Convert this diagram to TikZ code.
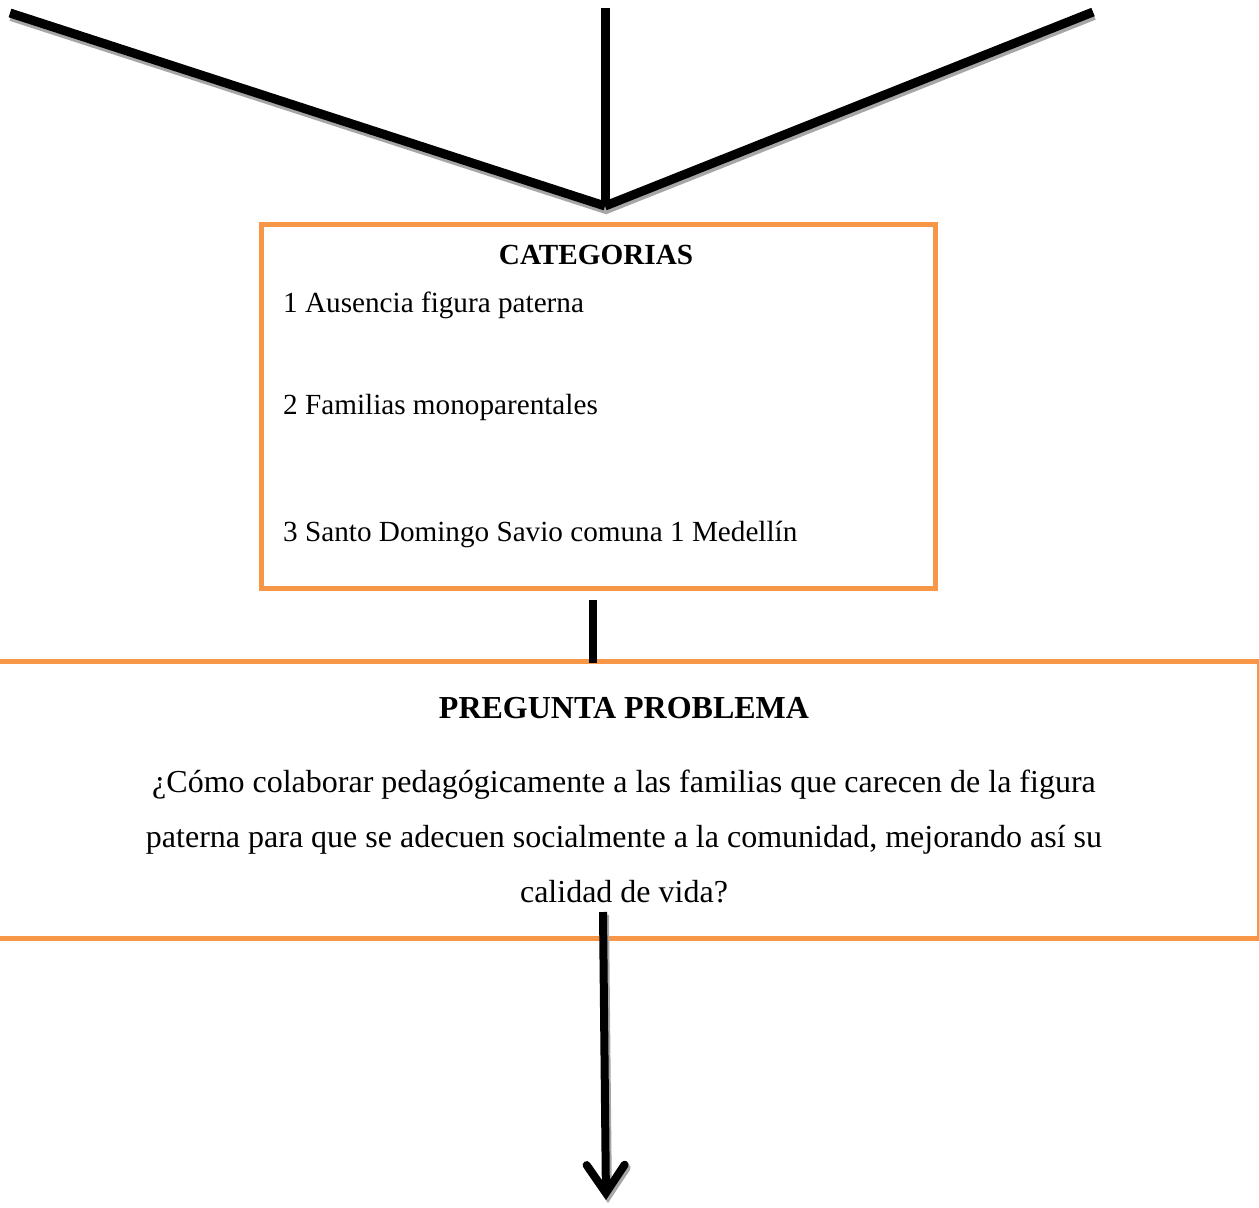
\documentclass[tikz,border=0pt]{standalone}
\usepackage{fontspec}
\setmainfont{Liberation Serif}
\usetikzlibrary{arrows.meta}
\definecolor{boxorange}{HTML}{F79646}
\definecolor{shadowgray}{HTML}{A6A6A6}
\tikzset{
  thickline/.style={line width=9pt, black},
  shadowline/.style={line width=9pt, shadowgray},
  orangebox/.style={draw=boxorange, line width=5pt, inner sep=0pt},
  fsmall/.style={font=\fontsize{29.2}{35}\selectfont},
  fbig/.style={font=\fontsize{32}{38}\selectfont},
}
\begin{document}
\begin{tikzpicture}[x=1pt,y=-1pt]
\useasboundingbox (0,0) rectangle (1259,1208);
% endpoints
\coordinate (tl) at (10,13);
\coordinate (tm) at (605,8);
\coordinate (tr) at (1093,12);
\coordinate (vj) at (605,206);
% shadows
\draw[shadowline] ([shift={(1,3.5)}]tl) -- ([shift={(1,3.5)}]vj) -- ([shift={(1,3.5)}]tr);
\draw[thickline] (tl) -- (vj);
\draw[thickline] (tr) -- (vj);
\draw[thickline] (tm) -- (vj);

% box 1
\node[orangebox, minimum width=674pt, minimum height=364pt, anchor=north west] (cat) at (259,222) {};
\node[fsmall, font=\fontsize{29.2}{35}\selectfont\bfseries] (cattitle) at (596,255) {CATEGORIAS};
\node[fsmall, anchor=west, inner sep=0pt] (c1) at (283,305) {1 Ausencia figura paterna};
\node[fsmall, anchor=west, inner sep=0pt] (c2) at (283,407) {2 Familias monoparentales};
\node[fsmall, anchor=west, inner sep=0pt] (c3) at (283,534) {3 Santo Domingo Savio comuna 1 Medellín};

% box 2
\node[orangebox, minimum width=1266pt, minimum height=277pt, anchor=north west] (preg) at (-9,659) {};
\coordinate (c1top) at (593,600);
\draw[thickline, line width=8pt, line cap=butt] (c1top) -- (593,663) coordinate (c1bot);
\node[fbig, font=\fontsize{32}{38}\selectfont\bfseries] (pt) at (624,708) {PREGUNTA PROBLEMA};
\node[fbig, align=center, inner sep=0pt] (pq) at (624,836) {¿Cómo colaborar pedagógicamente a las familias que carecen de la figura\\[17pt]paterna para que se adecuen socialmente a la comunidad, mejorando así su\\[17pt]calidad de vida?};

% arrow
\coordinate (as) at (603,912);
\coordinate (ae) at (606,1200);
\draw[shadowline, line width=8pt, -{Straight Barb[length=28pt,width=38pt,line cap=round]}] ([shift={(2,3)}]as) -- ([shift={(2,3)}]ae);
\draw[thickline, line width=8pt, -{Straight Barb[length=28pt,width=38pt,line cap=round]}] (as) -- (ae);
\end{tikzpicture}
\end{document}
